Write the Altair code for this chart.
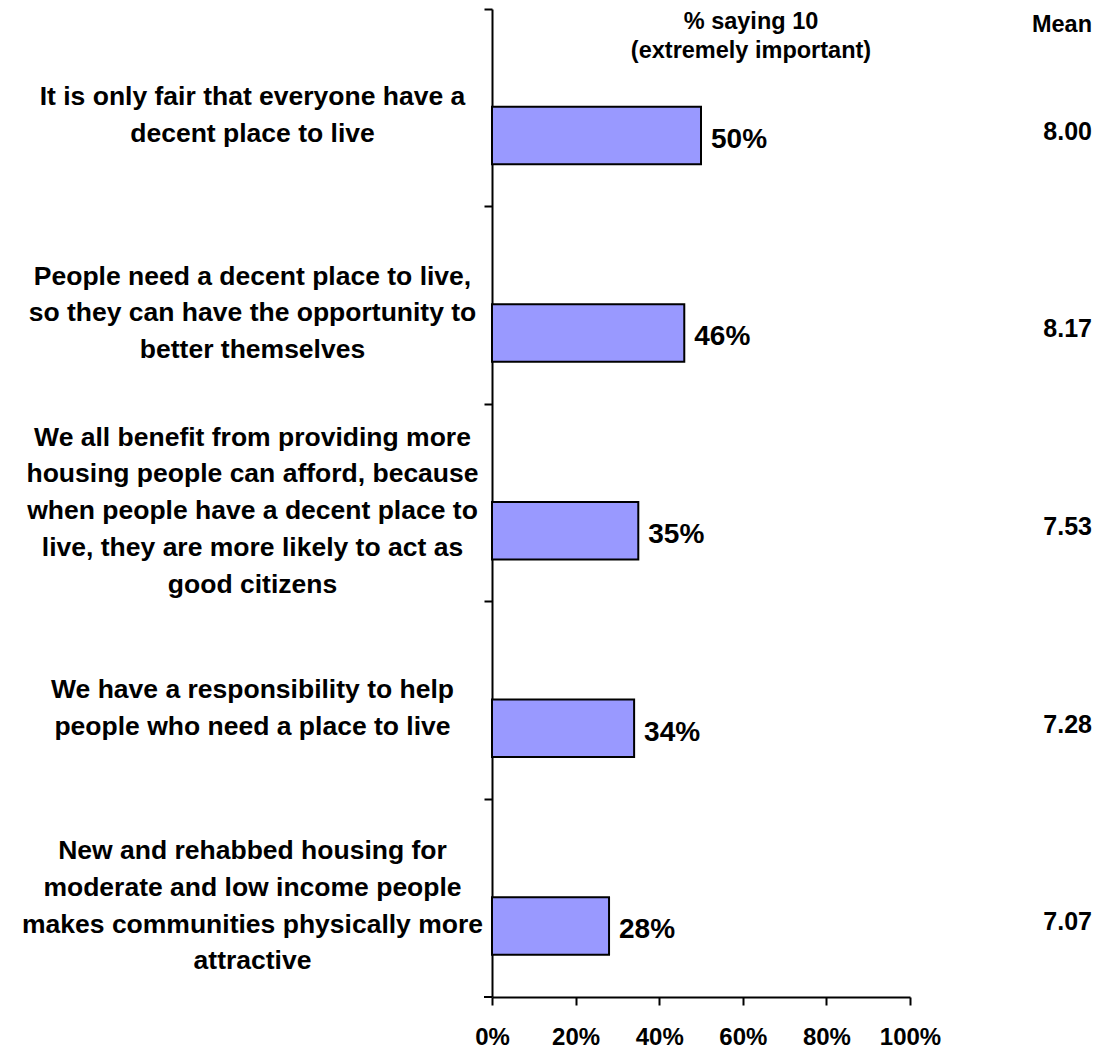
import altair as alt
import pandas as pd

categories = [
    "It is only fair that everyone have a|decent place to live",
    "People need a decent place to live,|so they can have the opportunity to|better themselves",
    "We all benefit from providing more|housing people can afford, because|when people have a decent place to|live, they are more likely to act as|good citizens",
    "We have a responsibility to help|people who need a place to live",
    "New and rehabbed housing for|moderate and low income people|makes communities physically more|attractive",
]
pct_saying_10 = [50, 46, 35, 34, 28]
means = ["8.00", "8.17", "7.53", "7.28", "7.07"]
x_ticks = [0, 20, 40, 60, 80, 100]

df = pd.DataFrame({
    "cat": categories,
    "pct": pct_saying_10,
    "lbl": [f"{v}%" for v in pct_saying_10],
    "mean": means,
})

FONT = "Liberation Sans"
W, H = 418, 988
LINE_H = 36.75
BASE_OFF = 8

# vertically centre each multi-line label block on its band
label_offset = {
    "condition": [
        {"test": f"length(split(datum.value, '|')) == {n}",
         "value": BASE_OFF - (n - 1) * LINE_H / 2}
        for n in (2, 3, 4, 5)
    ],
    "value": BASE_OFF,
}

y_enc = alt.Y(
    "cat:N",
    sort=categories,
    scale=alt.Scale(paddingInner=0, paddingOuter=0),
    axis=alt.Axis(
        title=None,
        bandPosition=0,
        tickSize=8,
        tickWidth=2,
        tickColor="black",
        domainColor="black",
        domainWidth=2,
        labelFont=FONT,
        labelFontSize=26.5,
        labelFontWeight="bold",
        labelColor="black",
        labelAlign="center",
        labelBaseline="middle",
        labelPadding=232,
        labelLimit=800,
        labelLineHeight=LINE_H,
        labelExpr="split(datum.label, '|')",
        labelOffset=label_offset,
        labelOverlap=False,
    ),
)

x_enc = alt.X(
    "pct:Q",
    scale=alt.Scale(domain=[0, 100], nice=False),
    axis=alt.Axis(
        title=None,
        values=x_ticks,
        labelExpr="datum.value + '%'",
        grid=False,
        tickSize=8,
        tickWidth=2,
        tickColor="black",
        domainColor="black",
        domainWidth=2,
        labelFont=FONT,
        labelFontSize=24,
        labelFontWeight="bold",
        labelColor="black",
        labelPadding=20,
        labelFlush=False,
        labelOverlap=False,
    ),
)

base = alt.Chart(df)

bars = base.mark_bar(
    fill="#9999FF", stroke="black", strokeWidth=2, height=57.5, yOffset=27.7
).encode(y=y_enc, x=x_enc)

values = base.mark_text(
    align="left", baseline="middle", dx=10, yOffset=32,
    font=FONT, fontSize=28, fontWeight="bold", color="black",
).encode(y=alt.Y("cat:N", sort=categories), x="pct:Q", text="lbl:N")

mean_text = base.mark_text(
    align="right", baseline="middle", yOffset=24,
    font=FONT, fontSize=25, fontWeight="bold", color="black",
).encode(y=alt.Y("cat:N", sort=categories), x=alt.value(600), text="mean:N")

header_df = pd.DataFrame({"h": ["% saying 10\n(extremely important)"]})
header = alt.Chart(header_df).mark_text(
    align="center", baseline="top", lineBreak="\n", lineHeight=29,
    font=FONT, fontSize=23.5, fontWeight="bold", color="black",
).encode(x=alt.value(259), y=alt.value(1), text="h:N")

mean_df = pd.DataFrame({"h": ["Mean"]})
mean_header = alt.Chart(mean_df).mark_text(
    align="right", baseline="alphabetic",
    font=FONT, fontSize=23.5, fontWeight="bold", color="black",
).encode(x=alt.value(600), y=alt.value(23), text="h:N")

bottom_tick = alt.Chart(mean_df).mark_rule(color="black", strokeWidth=2).encode(
    x=alt.value(-8), x2=alt.value(0), y=alt.value(H)
)

chart = alt.layer(bars, values, mean_text, header, mean_header, bottom_tick).properties(
    width=W,
    height=H,
    autosize=alt.AutoSizeParams(type="none"),
    padding={"left": 484, "top": 1, "right": 183, "bottom": 51},
).configure_view(strokeWidth=0)

chart.save("out.html", embed_options={"renderer": "svg", "actions": False})
